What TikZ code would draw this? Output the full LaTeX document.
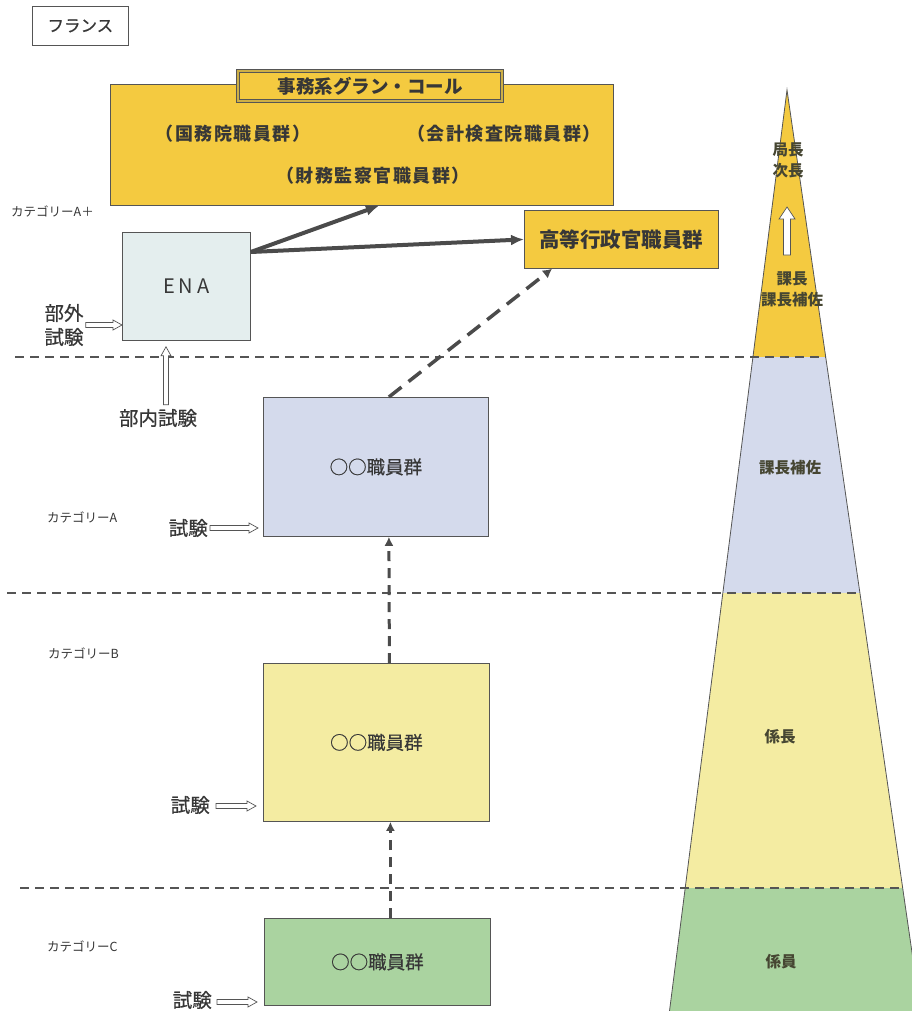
\documentclass[tikz,border=0pt]{standalone}
\usepackage{fontspec}
\setmainfont{Noto Sans CJK JP}
\newfontfamily\jpmed[FakeBold=0.6]{Noto Sans CJK JP}
\usetikzlibrary{arrows.meta,calc}
\definecolor{gold}{RGB}{244,202,64}
\definecolor{paleyellow}{RGB}{244,236,162}
\definecolor{paleblue}{RGB}{212,218,236}
\definecolor{palegreen}{RGB}{170,211,160}
\definecolor{enagray}{RGB}{228,238,238}
\definecolor{linegray}{RGB}{85,85,85}
\definecolor{textgray}{RGB}{55,55,55}
\definecolor{pyrtext}{RGB}{70,70,50}
\definecolor{arrowgray}{RGB}{75,75,75}
\definecolor{titlegap}{RGB}{205,175,70}
\newcommand\harrowright[2]{\draw[hollow] let \p1=(#1), \p2=(#2) in
  (\x1,\y1-2.5pt) -- (\x2-9pt,\y1-2.5pt) -- (\x2-9pt,\y1-5pt) -- (\x2,\y1)
  -- (\x2-9pt,\y1+5pt) -- (\x2-9pt,\y1+2.5pt) -- (\x1,\y1+2.5pt) -- cycle;}
\newcommand\harrowup[5]{\draw[hollow] let \p1=(#1), \p2=(#2) in
  (\x1-#3,\y1) -- (\x1-#3,\y2-#5) -- (\x1-#4,\y2-#5) -- (\x1,\y2)
  -- (\x1+#4,\y2-#5) -- (\x1+#3,\y2-#5) -- (\x1+#3,\y1) -- cycle;}
\newcommand\fs[3]{\fontsize{#1}{#2}\selectfont\addfontfeature{LetterSpace=#3}}
\begin{document}
\begin{tikzpicture}[x=1pt,y=-1pt,
  box/.style={draw=linegray, line width=0.8pt, inner sep=0pt, text=textgray},
  lbl/.style={inner sep=0pt, text=textgray},
  small/.style={lbl, font=\fs{12.5}{16}{0}},
  mid/.style={lbl, font=\jpmed\fs{19.5}{24}{0}},
  boxtext/.style={font=\jpmed\fs{18.5}{22}{0}},
  goldtext/.style={font=\bfseries\fs{18}{21}{8}},
  pyr/.style={inner sep=0pt, text=pyrtext, align=center, font=\bfseries\fs{15.5}{21}{0}},
  hollow/.style={draw=linegray, line width=0.7pt, fill=white},
  sep/.style={draw=linegray, line width=1.8pt, dash pattern=on 9pt off 6pt},
  thickarr/.style={draw=arrowgray, line width=4pt, -{Latex[length=13pt,width=11pt]}},
  dasharr/.style={draw=arrowgray, line width=3.5pt, dash pattern=on 16pt off 9pt, -{Latex[length=9pt,width=10pt]}},
  vdasharr/.style={draw=arrowgray, line width=3pt, dash pattern=on 10pt off 7pt, -{Latex[length=9pt,width=9pt]}}
]
\clip (0,0) rectangle (912,1011);
\fill[white] (0,0) rectangle (912,1011);

% pyramid
\fill[gold] (787,90) -- (825.7,357) -- (752.9,357) -- cycle;
\fill[paleblue] (752.9,357) -- (825.7,357) -- (859.9,593) -- (722.8,593) -- cycle;
\fill[paleyellow] (722.8,593) -- (859.9,593) -- (902.7,888) -- (685.2,888) -- cycle;
\fill[palegreen] (685.2,888) -- (902.7,888) -- (920.5,1011) -- (669.5,1011) -- cycle;

% separators
\draw[sep] (15,357) -- (826,357);
\draw[sep] (7,593) -- (860,593);
\draw[sep] (20,888) -- (903,888);
\draw[linegray, line width=0.8pt] (669.5,1011) -- (787,90) -- (920.5,1011);

% title
\node[box, minimum width=96, minimum height=39, anchor=north west,
  font=\jpmed\fs{16.5}{19}{0}] (france) at (32,6) {フランス};

% grandes ecoles
\node[box, fill=gold, minimum width=503, minimum height=121, anchor=north west] (grand) at (110,84) {};
\node[draw=linegray, line width=1pt, double=titlegap, double distance=1.5pt, fill=gold,
  minimum width=264, minimum height=30, inner sep=0pt, text=textgray,
  font=\bfseries\fs{18.5}{21}{0}] (title) at (370,86) {事務系グラン・コール};
\node[lbl, goldtext] (g1) at (233,134) {（国務院職員群）};
\node[lbl, goldtext] (g2) at (504,134) {（会計検査院職員群）};
\node[lbl, goldtext] (g3) at (373,176) {（財務監察官職員群）};

\node[box, fill=enagray, minimum width=128, minimum height=108, anchor=north west,
  font=\fs{20}{24}{20}] (ENA) at (122,232) {ENA};
\node[box, fill=gold, minimum width=194, minimum height=58, anchor=north west,
  font=\bfseries\fs{20.5}{24}{0}] (koto) at (524,210) {高等行政官職員群};

\node[box, fill=paleblue, minimum width=225, minimum height=139, anchor=north west,
  boxtext] (A) at (263,397) {○○職員群};
\node[box, fill=paleyellow, minimum width=226, minimum height=158, anchor=north west,
  boxtext] (B) at (263,663) {○○職員群};
\node[box, fill=palegreen, minimum width=226, minimum height=87, anchor=north west,
  boxtext] (C) at (264,918) {○○職員群};

% category labels
\node[small, anchor=west] (catAp) at (11,211) {カテゴリーA＋};
\node[small, anchor=west] (catA) at (47,517) {カテゴリーA};
\node[small, anchor=west] (catB) at (48,653) {カテゴリーB};
\node[small, anchor=west] (catC) at (47,946) {カテゴリーC};

% exam labels
\node[mid, align=center] (bugai) at (64,325) {部外\\試験};
\node[mid] (bunai) at (158,418) {部内試験};
\node[mid, anchor=east] (shA) at (208,528) {試験};
\node[mid, anchor=east] (shB) at (210,805) {試験};
\node[mid, anchor=east] (shC) at (212,1000) {試験};

\harrowright{$(bugai.east)+(2,0)$}{$(ENA.south west)+(0,-15)$}
\harrowup{$(bunai.north)+(8,-4)$}{$(ENA.south)+(-19,6)$}{2.5pt}{5pt}{9pt}
\harrowright{$(shA.east)+(2,0)$}{$(A.west |- shA.east)+(-5,0)$}
\harrowright{$(shB.east)+(6,1)$}{$(B.west |- shB.east)+(-7,1)$}
\harrowright{$(shC.east)+(5,2)$}{$(C.west |- shC.east)+(-7,2)$}

% main arrows
\coordinate (enaout) at ($(ENA.north east)+(0,20)$);
\draw[thickarr] (enaout) -- ($(grand.south)+(17,0)$);
\draw[thickarr] (enaout) -- (koto.west);
\draw[dasharr] ($(A.north)+(13,0)$) -- ($(koto.south west)+(28,0)$);
\draw[vdasharr] ($(B.north)+(13,0)$) -- ($(A.south)+(13,0)$);
\draw[vdasharr] ($(C.north)+(13,0)$) -- ($(B.south)+(14,0)$);

% pyramid labels
\node[pyr] (p1) at (788,160) {局長\\次長};
\node[pyr] (p2) at (792,289) {課長\\課長補佐};
\node[pyr] (p3) at (790,468) {課長補佐};
\node[pyr] (p4) at (780,737) {係長};
\node[pyr] (p5) at (781,962) {係員};
\coordinate (pa1) at (787,255);
\coordinate (pa2) at (787,207);
\harrowup{pa1}{pa2}{3.5pt}{8pt}{12pt}
\end{tikzpicture}
\end{document}
